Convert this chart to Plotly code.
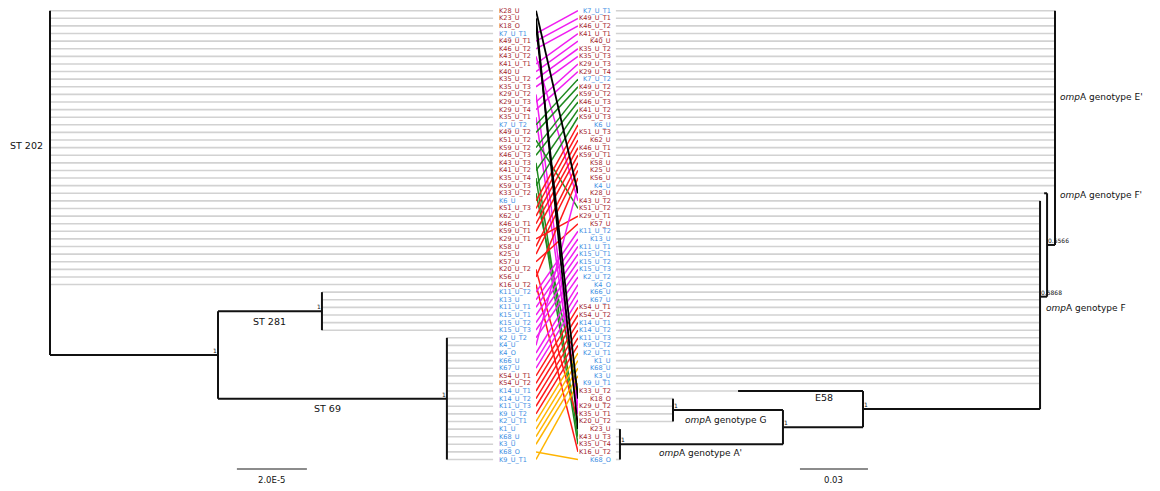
import plotly.graph_objects as go

# ---------------- data ----------------
# Left tree (MLST) tip order, grouped by sequence type
ST202 = ["K28_U", "K23_U", "K18_O", "K7_U_T1", "K49_U_T1", "K46_U_T2", "K43_U_T2", "K41_U_T1", "K40_U",
         "K35_U_T2", "K35_U_T3", "K29_U_T2", "K29_U_T3", "K29_U_T4", "K35_U_T1", "K7_U_T2", "K49_U_T2",
         "K51_U_T2", "K59_U_T2", "K46_U_T3", "K43_U_T3", "K41_U_T2", "K35_U_T4", "K59_U_T3", "K33_U_T2",
         "K6_U", "K51_U_T3", "K62_U", "K46_U_T1", "K59_U_T1", "K29_U_T1", "K58_U", "K25_U", "K57_U",
         "K20_U_T2", "K56_U", "K16_U_T2"]
ST281 = ["K11_U_T2", "K13_U", "K11_U_T1", "K15_U_T1", "K15_U_T2", "K15_U_T3"]
ST69 = ["K2_U_T2", "K4_U", "K4_O", "K66_U", "K67_U", "K54_U_T1", "K54_U_T2", "K14_U_T1", "K14_U_T2",
        "K11_U_T3", "K9_U_T2", "K2_U_T1", "K1_U", "K68_U", "K3_U", "K68_O", "K9_U_T1"]

# Right tree (ompA) tip order, grouped by genotype
OMPA_EP = ["K7_U_T1", "K49_U_T1", "K46_U_T2", "K41_U_T1", "K40_U", "K35_U_T2", "K35_U_T3", "K29_U_T3",
           "K29_U_T4", "K7_U_T2", "K49_U_T2", "K59_U_T2", "K46_U_T3", "K41_U_T2", "K59_U_T3", "K6_U",
           "K51_U_T3", "K62_U", "K46_U_T1", "K59_U_T1", "K58_U", "K25_U", "K56_U", "K4_U"]
OMPA_FP = ["K28_U"]
OMPA_F = ["K43_U_T2", "K51_U_T2", "K29_U_T1", "K57_U", "K11_U_T2", "K13_U", "K11_U_T1", "K15_U_T1",
          "K15_U_T2", "K15_U_T3", "K2_U_T2", "K4_O", "K66_U", "K67_U", "K54_U_T1", "K54_U_T2", "K14_U_T1",
          "K14_U_T2", "K11_U_T3", "K9_U_T2", "K2_U_T1", "K1_U", "K68_U", "K3_U", "K9_U_T1"]
OMPA_E58 = ["K33_U_T2"]
OMPA_G = ["K18_O", "K29_U_T2", "K35_U_T1", "K20_U_T2"]
OMPA_AP = ["K23_U", "K43_U_T3", "K35_U_T4", "K16_U_T2", "K68_O"]

BLUE_ISOLATES = {"K7_U_T1", "K7_U_T2", "K6_U", "K11_U_T2", "K13_U", "K11_U_T1", "K15_U_T1", "K15_U_T2",
                 "K15_U_T3", "K2_U_T2", "K4_U", "K4_O", "K66_U", "K67_U", "K14_U_T1", "K14_U_T2",
                 "K11_U_T3", "K9_U_T2", "K2_U_T1", "K1_U", "K68_U", "K3_U", "K68_O", "K9_U_T1"}

# branch lengths (left in units of 1e-5 substitutions/site, right in substitutions/site)
LEFT_BL = {"n1": 4.8, "ST281": 2.97, "ST69": 6.54}
RIGHT_BL = {"nFp": 0.0035, "K28_U": 0.0013, "nF": 0.0031, "nE": 0.0781, "K33_U_T2": 0.0551,
            "nGA": 0.0353, "nG": 0.0485, "nA": 0.0719}
LEFT_SUPPORT = {"n1": "1", "ST281": "1", "ST69": "1"}
RIGHT_SUPPORT = {"nFp": "0.5566", "nF": "0.5868", "nE": "1", "nGA": "1", "nG": "1", "nA": "1"}

# link colours by left-tree row bands (first row, last row, colour)
LINK_BANDS = [(4, 15, "#f01ef0"), (16, 25, "#1f8a1f"), (26, 37, "#ff1a1a"), (38, 48, "#f01ef0"),
              (49, 54, "#ff1a1a"), (55, 60, "#ffb400"), (1, 3, "#000000")]

SCALE_LEFT = 2.0      # 2.0E-5
SCALE_RIGHT = 0.03

RED = "#a3222b"
BLUE = "#3a8de3"
GRAY = "#d2d2d2"
FONT = "DejaVu Sans"


# ---------------- tree helpers ----------------
def tip(name, bl=0.0):
    return {"name": name, "bl": bl}


def clade(key, bl, children):
    return {"key": key, "bl": bl, "children": children}


LEFT_TREE = clade("root", 0.0, [tip(n) for n in ST202] + [
    clade("n1", LEFT_BL["n1"], [
        clade("ST281", LEFT_BL["ST281"], [tip(n) for n in ST281]),
        clade("ST69", LEFT_BL["ST69"], [tip(n) for n in ST69]),
    ])])

RIGHT_TREE = clade("root", 0.0, [tip(n) for n in OMPA_EP] + [
    clade("nFp", RIGHT_BL["nFp"], [
        tip("K28_U", RIGHT_BL["K28_U"]),
        clade("nF", RIGHT_BL["nF"], [tip(n) for n in OMPA_F] + [
            clade("nE", RIGHT_BL["nE"], [
                tip("K33_U_T2", RIGHT_BL["K33_U_T2"]),
                clade("nGA", RIGHT_BL["nGA"], [
                    clade("nG", RIGHT_BL["nG"], [tip(n) for n in OMPA_G]),
                    clade("nA", RIGHT_BL["nA"], [tip(n) for n in OMPA_AP]),
                ]),
            ]),
        ]),
    ])])


def layout_tree(tree):
    black_x, black_y, tips, nodes = [], [], [], {}
    counter = [1]

    def rec(node, parent_depth):
        d = parent_depth + node["bl"]
        if "children" not in node:
            row = counter[0]
            counter[0] += 1
            tips.append((node["name"], d, row))
            y = row
        else:
            res = [rec(c, d) for c in node["children"]]
            ys = [r[1] for r in res]
            y = sum(ys) / len(ys)
            black_x.extend([d, d, None])
            black_y.extend([min(ys), max(ys), None])
            for cd, cy in res:
                if cd != d:
                    black_x.extend([d, cd, None])
                    black_y.extend([cy, cy, None])
            nodes[node["key"]] = (d, y)
        return d, y

    rec(tree, 0.0)
    return black_x, black_y, tips, nodes


lbx, lby, ltips, lnodes = layout_tree(LEFT_TREE)
rbx, rby, rtips, rnodes = layout_tree(RIGHT_TREE)

LEFT_ALIGN = 12.66
RIGHT_ALIGN = 0.1937

fig = go.Figure()

# gray alignment / terminal lines
gx, gy = [], []
for name, d, row in ltips:
    gx += [d, LEFT_ALIGN, None]
    gy += [row, row, None]
fig.add_trace(go.Scatter(x=gx, y=gy, mode="lines", line=dict(color=GRAY, width=1.6),
                         hoverinfo="skip", xaxis="x", yaxis="y"))
gx, gy = [], []
for name, d, row in rtips:
    gx += [d, RIGHT_ALIGN, None]
    gy += [row, row, None]
fig.add_trace(go.Scatter(x=gx, y=gy, mode="lines", line=dict(color=GRAY, width=1.6),
                         hoverinfo="skip", xaxis="x2", yaxis="y"))

# black tree branches
fig.add_trace(go.Scatter(x=lbx, y=lby, mode="lines", line=dict(color="#111111", width=2),
                         hoverinfo="skip", xaxis="x", yaxis="y"))
fig.add_trace(go.Scatter(x=rbx, y=rby, mode="lines", line=dict(color="#111111", width=2),
                         hoverinfo="skip", xaxis="x2", yaxis="y"))

# links
right_row = {name: row for name, d, row in rtips}
for lo, hi, col in LINK_BANDS:
    xs, ys = [], []
    for name, d, row in ltips:
        if lo <= row <= hi:
            xs += [0, 1, None]
            ys += [row, right_row[name], None]
    fig.add_trace(go.Scatter(x=xs, y=ys, mode="lines",
                             line=dict(color=col, width=1.8 if col == "#000000" else 1.5),
                             hoverinfo="skip", xaxis="x3", yaxis="y"))

# scale bars
SB_ROW = 61.25
fig.add_trace(go.Scatter(x=[5.34, 5.34 + SCALE_LEFT], y=[SB_ROW, SB_ROW], mode="lines",
                         line=dict(color="#666666", width=1.5), xaxis="x", yaxis="y", hoverinfo="skip"))
fig.add_trace(go.Scatter(x=[0.0825, 0.0825 + SCALE_RIGHT], y=[SB_ROW, SB_ROW], mode="lines",
                         line=dict(color="#666666", width=1.5), xaxis="x2", yaxis="y", hoverinfo="skip"))

ann = []
for name, d, row in ltips:
    ann.append(dict(x=12.78, y=row, xref="x", yref="y", text=name, showarrow=False, xanchor="left",
                    yanchor="middle", font=dict(family=FONT, size=6.5, color=BLUE if name in BLUE_ISOLATES else RED)))
for name, d, row in rtips:
    ann.append(dict(x=0.1950, y=row, xref="x2", yref="y", text=name, showarrow=False, xanchor="right",
                    yanchor="middle", font=dict(family=FONT, size=6.5, color=BLUE if name in BLUE_ISOLATES else RED)))

for key, txt in LEFT_SUPPORT.items():
    d, y = lnodes[key]
    ann.append(dict(x=d, y=y, xref="x", yref="y", text=txt, showarrow=False, xanchor="right",
                    yanchor="bottom", xshift=1, yshift=-1, font=dict(family=FONT, size=6, color="#111")))
for key, txt in RIGHT_SUPPORT.items():
    d, y = rnodes[key]
    ann.append(dict(x=d, y=y, xref="x2", yref="y", text=txt, showarrow=False, xanchor="left",
                    yanchor="bottom", xshift=-1, yshift=-1, font=dict(family=FONT, size=6, color="#111")))

lab = dict(family=FONT, size=9.5, color="#111")
st202_mid = (1 + len(ST202)) / 2
ann += [
    dict(x=-1.2, y=st202_mid - 0.3, xref="x", yref="y", text="ST 202", showarrow=False, xanchor="left", font=lab),
    dict(x=(lnodes["n1"][0] + lnodes["ST281"][0]) / 2, y=lnodes["ST281"][1] + 1.4, xref="x", yref="y",
         text="ST 281", showarrow=False, font=lab),
    dict(x=(lnodes["n1"][0] + lnodes["ST69"][0]) / 2 - 0.15, y=lnodes["ST69"][1] + 1.3, xref="x", yref="y",
         text="ST 69", showarrow=False, font=lab),
    dict(x=5.34 + SCALE_LEFT / 2, y=SB_ROW + 1.45, xref="x", yref="y", text="2.0E-5", showarrow=False,
         font=dict(family=FONT, size=8.5, color="#111")),
    dict(x=0.0825 + SCALE_RIGHT / 2, y=SB_ROW + 1.45, xref="x2", yref="y", text="0.03", showarrow=False,
         font=dict(family=FONT, size=8.5, color="#111")),
    dict(x=-0.0015, y=12.4, xref="x2", yref="y", text="<i>omp</i>A genotype E'", showarrow=False,
         xanchor="left", font=dict(family=FONT, size=9, color="#111")),
    dict(x=-0.0015, y=25.2, xref="x2", yref="y", text="<i>omp</i>A genotype F'", showarrow=False,
         xanchor="left", font=dict(family=FONT, size=9, color="#111")),
    dict(x=0.0048, y=rnodes["nF"][1] + 1.5, xref="x2", yref="y", text="<i>omp</i>A genotype F",
         showarrow=False, xanchor="left", font=dict(family=FONT, size=9, color="#111")),
    dict(x=0.1019, y=51.9, xref="x2", yref="y", text="E58", showarrow=False,
         font=dict(family=FONT, size=9.5, color="#111")),
    dict(x=0.1640, y=rnodes["nG"][1] + 1.25, xref="x2", yref="y", text="<i>omp</i>A genotype G",
         showarrow=False, xanchor="left", font=dict(family=FONT, size=9, color="#111")),
    dict(x=0.1755, y=rnodes["nA"][1] + 1.15, xref="x2", yref="y", text="<i>omp</i>A genotype A'",
         showarrow=False, xanchor="left", font=dict(family=FONT, size=9, color="#111")),
]

W, H = 1160, 491
LEFT_ROOT_PX, LEFT_PX_PER_UNIT = 50, 35.0
RIGHT_ROOT_PX, RIGHT_PX_PER_UNIT = 1055, 2267.0
ROW0_PX, ROW_STEP = 10.7, 7.607

fig.update_layout(
    width=W, height=H, margin=dict(l=0, r=0, t=0, b=0, pad=0),
    paper_bgcolor="white", plot_bgcolor="white", showlegend=False,
    annotations=ann,
    xaxis=dict(domain=[0, 1], range=[-LEFT_ROOT_PX / LEFT_PX_PER_UNIT, (W - LEFT_ROOT_PX) / LEFT_PX_PER_UNIT],
               visible=False, anchor="y"),
    xaxis2=dict(overlaying="x", range=[RIGHT_ROOT_PX / RIGHT_PX_PER_UNIT, (RIGHT_ROOT_PX - W) / RIGHT_PX_PER_UNIT],
                visible=False, anchor="y"),
    xaxis3=dict(domain=[536 / W, 578 / W], range=[0, 1], visible=False, anchor="y"),
    yaxis=dict(range=[1 + (H - ROW0_PX) / ROW_STEP, 1 - ROW0_PX / ROW_STEP], visible=False),
)

fig.write_html("out.html", post_script="document.body.style.margin='0';",
               config={"displayModeBar": False})
